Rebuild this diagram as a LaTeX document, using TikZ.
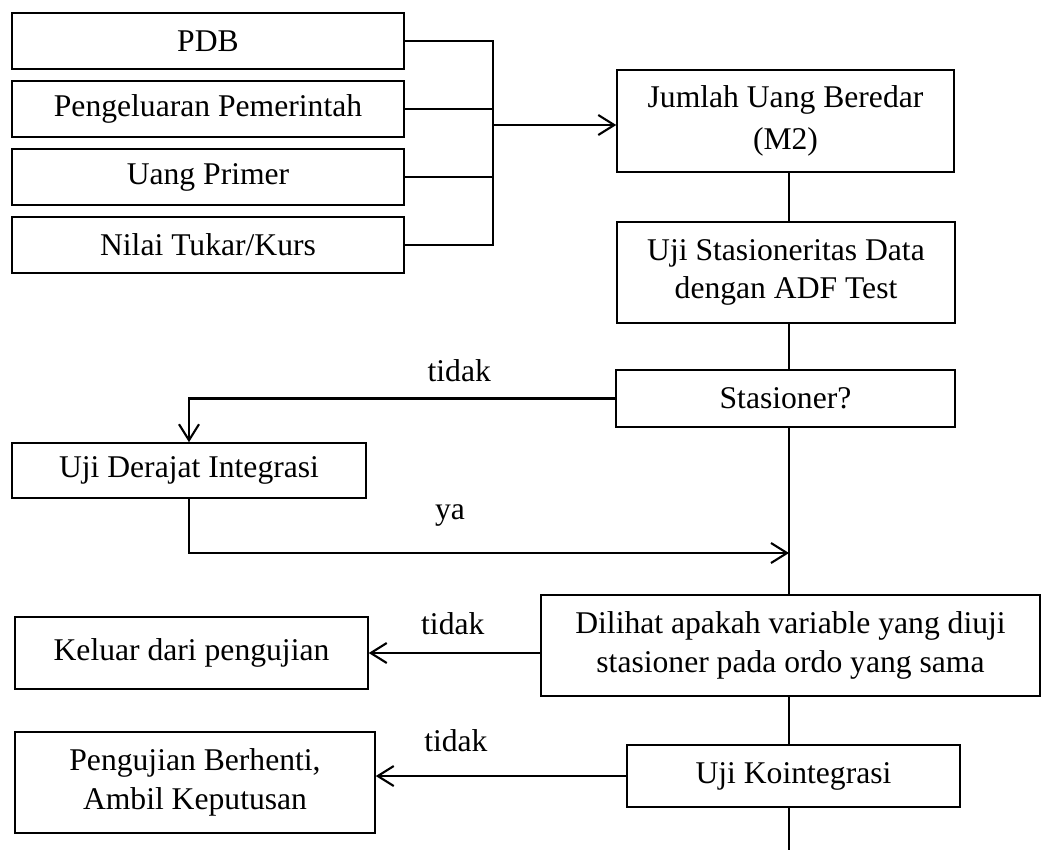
\documentclass[tikz,border=0pt]{standalone}
\usepackage{fontspec}
\setmainfont{Liberation Serif}
\usetikzlibrary{arrows.meta}

\begin{document}
\begin{tikzpicture}[
  x=0.02cm, y=-0.02cm,
  box/.style={draw, line width=0.9pt, align=center, inner sep=2pt,
              font=\fontsize{18}{22}\selectfont},
  input/.style={box, minimum width=7.84cm, minimum height=1.12cm},
  line/.style={line width=1.2pt},
  arrow/.style={line, -{Straight Barb[length=3.2mm, width=4mm]}},
  note/.style={font=\fontsize{18}{22}\selectfont, inner sep=0pt}
]
  \useasboundingbox (0,0) rectangle (1043,850);

  % variabel input
  \node[input] (pdb)  at (208,41)  {PDB};
  \node[input] (peng) at (208,109) {Pengeluaran Pemerintah};
  \node[input] (uang) at (208,177) {Uang Primer};
  \node[input] (kurs) at (208,245) {Nilai Tukar/Kurs};

  % alur utama
  \node[box, minimum width=6.74cm, minimum height=2.04cm] (m2) at (785.5,121)
    {Jumlah Uang Beredar\\[2pt](M2)};
  \node[box, minimum width=6.76cm, minimum height=2.02cm] (adf) at (786,272.5)
    {Uji Stasioneritas Data\\dengan ADF Test};
  \node[box, minimum width=6.78cm, minimum height=1.14cm] (stas) at (785.5,398.5)
    {Stasioner?};
  \node[box, minimum width=7.08cm, minimum height=1.10cm] (derajat) at (189,470.5)
    {Uji Derajat Integrasi};
  \node[box, minimum width=9.98cm, minimum height=2.02cm] (dilihat) at (790.5,645.5)
    {Dilihat apakah variable yang diuji\\stasioner pada ordo yang sama};
  \node[box, minimum width=7.06cm, minimum height=1.44cm] (keluar) at (191.5,653)
    {Keluar dari pengujian};
  \node[box, minimum width=6.66cm, minimum height=1.24cm] (kointeg) at (793.5,776)
    {Uji Kointegrasi};
  \node[box, minimum width=7.20cm, minimum height=2.02cm] (berhenti) at (195,782.5)
    {Pengujian Berhenti,\\Ambil Keputusan};

  \coordinate (bus) at (493,125);
  \coordinate (spine) at (789,0);
  \coordinate (join) at (789,553);
  \coordinate (tail) at (789,850);

  % penggabungan input
  \draw[line] (pdb.east) -| (kurs.east -| bus) -- (kurs.east);
  \draw[line] (peng.east) -- (peng.east -| bus);
  \draw[line] (uang.east) -- (uang.east -| bus);
  \draw[arrow] (bus) -- (bus -| m2.west);

  % garis tengah
  \draw[line] (m2.south -| spine) -- (adf.north -| spine);
  \draw[line] (adf.south -| spine) -- (stas.north -| spine);
  \draw[line] (stas.south -| spine) -- (dilihat.north -| spine);
  \draw[line] (dilihat.south -| spine) -- (kointeg.north -| spine);
  \draw[line] (kointeg.south -| spine) -- (tail);

  % cabang
  \draw[arrow] (stas.west) -| node[note, pos=0.183, above=0.32cm]{tidak} (derajat.north);
  \draw[arrow] (derajat.south) |- node[note, pos=0.7175, above=0.52cm]{ya} (join);
  \draw[arrow] (dilihat.west |- keluar) -- node[note, pos=0.51, above=0.34cm]{tidak} (keluar.east);
  \draw[arrow] (kointeg.west) -- node[note, pos=0.68, above=0.46cm]{tidak} (kointeg.west -| berhenti.east);
\end{tikzpicture}
\end{document}
